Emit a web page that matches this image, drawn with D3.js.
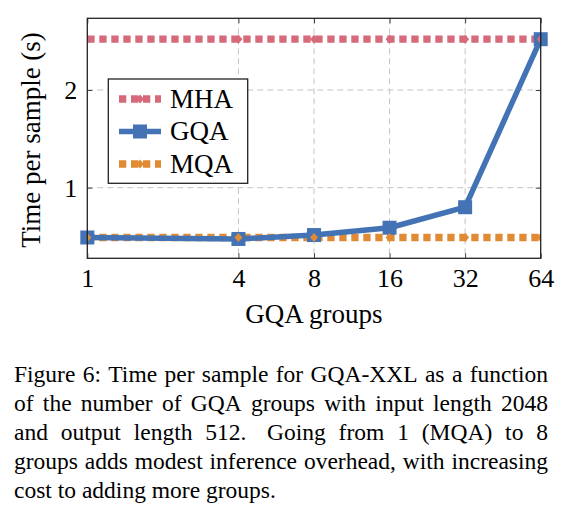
<!DOCTYPE html>
<html>
<head>
<meta charset="utf-8">
<script src="https://cdn.jsdelivr.net/npm/d3@7"></script>
<style>
    body { margin: 0; background: #fff; }
    svg { display: block; }
</style>
</head>
<body>
<svg width="565" height="520"></svg>
<script>
"use strict"

const groups = [1, 4, 8, 16, 32, 64]
const mhaTime = [2.52, 2.52, 2.52, 2.52, 2.52, 2.52]
const gqaTime = [0.49, 0.475, 0.515, 0.59, 0.8, 2.52]
const mqaTime = [0.49, 0.49, 0.49, 0.49, 0.49, 0.49]
const yTicks = [1, 2]
const seriesNames = ["MHA", "GQA", "MQA"]
const xLabel = "GQA groups"
const yLabel = "Time per sample (s)"
const captionLines = [
    "Figure 6: Time per sample for GQA-XXL as a function",
    "of the number of GQA groups with input length 2048",
    "and output length 512. Going from 1 (MQA) to 8",
    "groups adds modest inference overhead, with increasing",
    "cost to adding more groups."
]

const FONT = "'Liberation Serif', 'Times New Roman', serif"
const COLORS = { MHA: "#d6697a", GQA: "#4373b5", MQA: "#e08b33" }

const svg = d3.select("svg")
const plotLeft = 87.3, plotRight = 540.7, plotTop = 18.3, plotBottom = 258.3

const x = d3.scaleLog().base(2).domain([1, 64]).range([plotLeft, plotRight])
const y = d3.scaleLinear().domain([0.277, 2.734]).range([plotBottom, plotTop])

svg.append("clipPath").attr("id", "plot-clip")
    .append("rect")
    .attr("x", plotLeft).attr("y", plotTop)
    .attr("width", plotRight - plotLeft).attr("height", plotBottom - plotTop)

// grid
const grid = svg.append("g")
    .attr("stroke", "#c4c4c4")
    .attr("stroke-width", 1)
    .attr("stroke-dasharray", "6,4")
grid.selectAll(".vx").data(groups.slice(1, -1)).join("line")
    .attr("x1", (d) => x(d)).attr("x2", (d) => x(d))
    .attr("y1", plotTop).attr("y2", plotBottom)
grid.selectAll(".hy").data(yTicks).join("line")
    .attr("x1", plotLeft).attr("x2", plotRight)
    .attr("y1", (d) => y(d)).attr("y2", (d) => y(d))

// axes with inward ticks
const xAxis = svg.append("g")
    .attr("transform", `translate(0,${plotBottom})`)
    .call(d3.axisBottom(x).tickValues(groups).tickFormat(d3.format("d"))
        .tickSizeInner(-5).tickSizeOuter(0).tickPadding(10))
const xTop = svg.append("g")
    .attr("transform", `translate(0,${plotTop})`)
    .call(d3.axisTop(x).tickValues(groups).tickFormat("")
        .tickSizeInner(-5).tickSizeOuter(0))
const yAxis = svg.append("g")
    .attr("transform", `translate(${plotLeft},0)`)
    .call(d3.axisLeft(y).tickValues(yTicks).tickFormat(d3.format("d"))
        .tickSizeInner(-5).tickSizeOuter(0).tickPadding(10))
const yRight = svg.append("g")
    .attr("transform", `translate(${plotRight},0)`)
    .call(d3.axisRight(y).tickValues(yTicks).tickFormat("")
        .tickSizeInner(-5).tickSizeOuter(0))

for (const ax of [xAxis, xTop, yAxis, yRight]) {
    ax.select(".domain").remove()
    ax.selectAll(".tick line").attr("stroke", "#444").attr("stroke-width", 1)
    ax.selectAll(".tick text")
        .attr("font-family", FONT)
        .attr("font-size", "26px")
        .attr("fill", "#000")
}

// lines
const dotted = (name, values) => {
    const pts = groups.map((g, i) => [x(g), y(values[i])])
    svg.append("path")
        .attr("d", d3.line()(pts))
        .attr("fill", "none")
        .attr("stroke", COLORS[name])
        .attr("stroke-width", 7.3)
        .attr("stroke-dasharray", "7.3,4.7")
        .attr("stroke-linecap", "butt")
    return pts
}
const diamond = "M0,-4.5L4,0L0,4.5L-4,0Z"

const mhaPts = dotted("MHA", mhaTime)
const mqaPts = dotted("MQA", mqaTime)

const gqaPts = groups.map((g, i) => [x(g), y(gqaTime[i])])
svg.append("path")
    .attr("d", d3.line()(gqaPts))
    .attr("fill", "none")
    .attr("stroke", COLORS.GQA)
    .attr("stroke-width", 5.5)
    .attr("stroke-linejoin", "round")
svg.selectAll(".gqa-mark").data(gqaPts).join("rect")
    .attr("x", (d) => d[0] - 7).attr("y", (d) => d[1] - 7)
    .attr("width", 14).attr("height", 14)
    .attr("fill", COLORS.GQA)

const smallMarks = svg.append("g").attr("clip-path", "url(#plot-clip)")
smallMarks.selectAll(".mha-mark").data(mhaPts).join("path")
    .attr("d", diamond)
    .attr("transform", (d) => `translate(${d[0]},${d[1]})`)
    .attr("fill", COLORS.MHA)
smallMarks.selectAll(".mqa-mark").data(mqaPts).join("path")
    .attr("d", diamond)
    .attr("transform", (d) => `translate(${d[0]},${d[1]})`)
    .attr("fill", COLORS.MQA)

// frame
svg.append("rect")
    .attr("x", plotLeft).attr("y", plotTop)
    .attr("width", plotRight - plotLeft).attr("height", plotBottom - plotTop)
    .attr("fill", "none")
    .attr("stroke", "#222")
    .attr("stroke-width", 1.3)

// axis labels
svg.append("text")
    .attr("x", (plotLeft + plotRight) / 2).attr("y", 323)
    .attr("text-anchor", "middle")
    .attr("font-family", FONT).attr("font-size", "27px")
    .text(xLabel)
svg.append("text")
    .attr("transform", "translate(40,140) rotate(-90)")
    .attr("text-anchor", "middle")
    .attr("font-family", FONT).attr("font-size", "27px")
    .text(yLabel)

// legend
const legend = svg.append("g")
legend.append("rect")
    .attr("x", 108.3).attr("y", 79)
    .attr("width", 139.4).attr("height", 104.3)
    .attr("fill", "#fff")
    .attr("stroke", "#222")
    .attr("stroke-width", 1.3)
seriesNames.forEach((name, i) => {
    const cy = 99 + i * 32.5
    const row = legend.append("g")
    const line = row.append("line")
        .attr("x1", 119).attr("x2", 161)
        .attr("y1", cy).attr("y2", cy)
        .attr("stroke", COLORS[name])
    if (name === "GQA") {
        line.attr("stroke-width", 5.5)
        row.append("rect")
            .attr("x", 140 - 7).attr("y", cy - 7)
            .attr("width", 14).attr("height", 14)
            .attr("fill", COLORS[name])
    } else {
        line.attr("stroke-width", 7.3).attr("stroke-dasharray", "7.3,4.7")
        row.append("path")
            .attr("d", diamond)
            .attr("transform", `translate(140,${cy})`)
            .attr("fill", COLORS[name])
    }
    row.append("text")
        .attr("x", 170).attr("y", cy + 8.7)
        .attr("font-family", FONT).attr("font-size", "27px")
        .text(name)
})

// caption, justified by hand
const capLeft = 14, capRight = 548
captionLines.forEach((line, i) => {
    const words = line.split(" ")
    const t = svg.append("text")
        .attr("y", 382.3 + i * 28.8)
        .attr("font-family", FONT).attr("font-size", "23.5px")
    const spans = words.map((w) => t.append("tspan").text(w))
    const widths = spans.map((s) => s.node().getComputedTextLength())
    const weights = words.slice(0, -1).map((w) => (w.endsWith(".") ? 1.6 : 1))
    const last = i === captionLines.length - 1
    const unit = last ? 5.9 : (capRight - capLeft - d3.sum(widths)) / d3.sum(weights)
    let cx = capLeft
    spans.forEach((s, j) => {
        s.attr("x", cx)
        cx += widths[j] + (j < weights.length ? weights[j] * unit : 0)
    })
})
</script>
</body>
</html>
